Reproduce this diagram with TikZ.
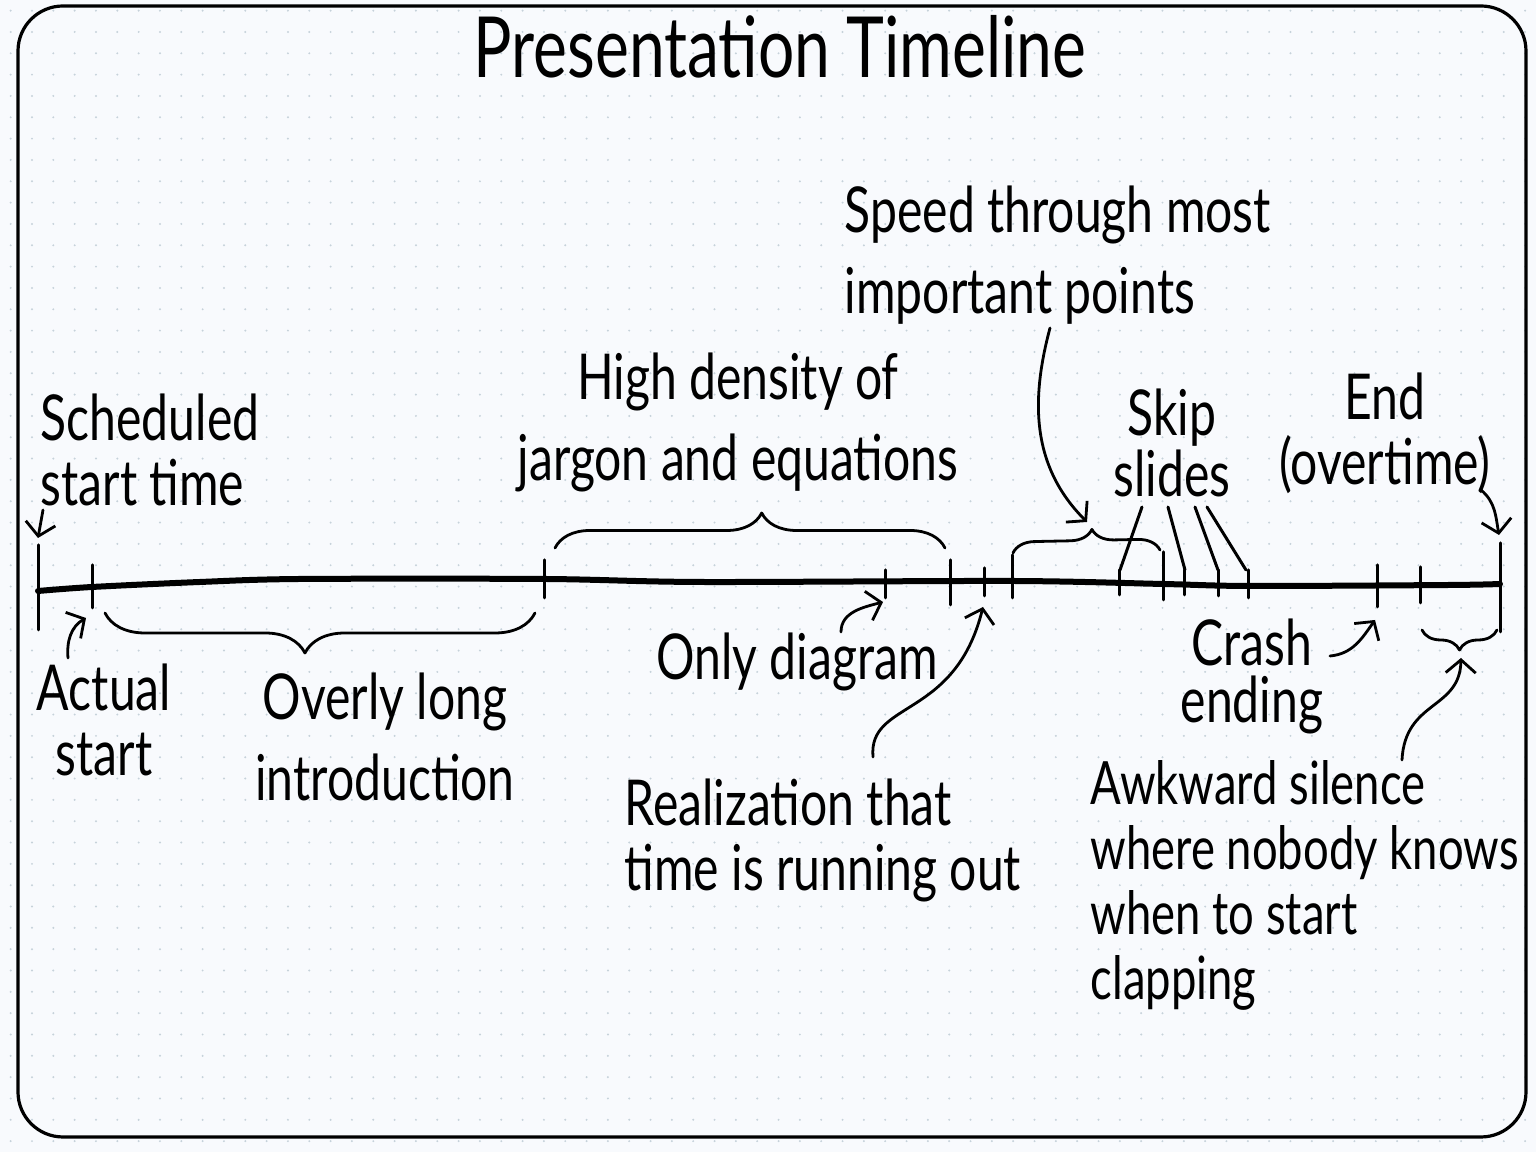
\documentclass[tikz,border=0pt]{standalone}
\usepackage{fontspec}
\setmainfont{Lato}[FakeStretch=0.76]
\usetikzlibrary{arrows.meta,decorations.pathreplacing}
\definecolor{paper}{HTML}{F8FAFD}
\definecolor{dotc}{HTML}{C6D2DA}
\tikzset{
  lbl/.style={font=\fontsize{18}{18.5}\selectfont, inner sep=0pt},
  wide/.style={font=\fontsize{18}{23.2}\selectfont},
  tight/.style={font=\fontsize{18}{16.4}\selectfont},
  tick/.style={line width=0.3mm},
  arr/.style={line width=0.28mm, -{Straight Barb[length=1.3mm,width=3mm]}},
  brc/.style={line width=0.28mm, decorate},
}
\begin{document}
\begin{tikzpicture}[x=0.1mm,y=-0.1mm,line cap=round,line join=round]
\useasboundingbox (0,0) rectangle (1536,1152);
\fill[paper] (0,0) rectangle (1536,1152);
% dotted paper
\foreach \i in {0,...,71}
  \foreach \j in {0,...,53}
    \fill[dotc] (10.67+21.33*\i,10.67+21.33*\j) circle (1.1);
\draw[line width=0.32mm, rounded corners=4.5mm] (18,6) rectangle (1526,1137);

\node[font=\fontsize{24}{24}\selectfont, inner sep=0pt, anchor=base] (title) at (780,78) {Presentation Timeline};

% the timeline
\draw[line width=0.6mm] plot[smooth] coordinates {(38,591) (92,587) (200,582) (300,579) (545,579)
  (700,582) (1012,581) (1163,584) (1250,586) (1450,585) (1500,584)};
\foreach \x/\a/\b in {38/545/630, 92/565/608, 544/560/598, 885/570/598, 950/560/605,
  984/568/596, 1012/555/598, 1119/570/595, 1163/552/600, 1184/570/595, 1218/570/596,
  1248/570/598, 1377/565/607, 1420/567/603, 1500/543/632}
{ \draw[tick] (\x,\a) -- (\x,\b);
}

% labels
\node[lbl, anchor=north west, align=left] (sched) at (40,393) {Scheduled\\start time};
\node[lbl, anchor=north, align=center] (actual) at (104,663) {Actual\\start};
\node[lbl, wide, anchor=north, align=center] (intro) at (385,672) {Overly long\\introduction};
\node[lbl, wide, anchor=north, align=center] (jargon) at (738,352) {High density of\\jargon and equations};
\node[lbl, wide, anchor=north west, align=left] (speed) at (844,185) {Speed through most\\important points};
\node[lbl, font=\fontsize{18}{15.4}\selectfont, anchor=north, align=center] (skip) at (1172,388) {Skip\\slides};
\node[lbl, anchor=north, align=center] (end) at (1385,372) {End\\(overtime)};
\node[lbl, anchor=north] (diagram) at (797,632) {Only diagram};
\node[lbl, anchor=north west, align=left] (realize) at (624,778) {Realization that\\time is running out};
\node[lbl, tight, anchor=north, align=center] (crash) at (1252,618) {Crash\\ending};
\node[lbl, font=\fontsize{17}{18.5}\selectfont, anchor=north west, align=left] (awkward) at (1090,760)
  {Awkward silence\\where nobody knows\\when to start\\clapping};

% arrow ends
\coordinate (schedA) at (43,510);  \coordinate (schedB) at (38,538);
\coordinate (actualA) at (68,658); \coordinate (actualB) at (86,618);
\coordinate (diagA) at (841,632);  \coordinate (diagB) at (883,602);
\coordinate (realA) at (873,757);  \coordinate (realB) at (983,607);
\coordinate (speedA) at (1050,328); \coordinate (speedB) at (1087,522);
\coordinate (endA) at (1481,490);  \coordinate (endB) at (1499,535);
\coordinate (crashA) at (1330,656); \coordinate (crashB) at (1375,620);
\coordinate (awkA) at (1402,760);  \coordinate (awkB) at (1461,658);

\draw[arr] (schedA) to[out=-100,in=80] (schedB);
\draw[arr] (actualA) to[out=95,in=210] (actualB);
\draw[arr] (diagA) to[out=90,in=195] (diagB);
\draw[arr] (realA) .. controls (868,700) and (955,720) .. (realB);
\draw[arr] (speedA) to[out=-105,in=135] (speedB);
\draw[arr] (endA) to[out=-40,in=100] (endB);
\draw[arr] (crashA) to[out=5,in=-125] (crashB);
\draw[arr] (awkA) .. controls (1405,700) and (1460,710) .. (awkB);

% skipped slides
\draw[tick] (1142,507) -- (1120,570);
\draw[tick] (1168,507) -- (1185,570);
\draw[tick] (1195,507) -- (1218,570);
\draw[tick] (1207,507) -- (1246,570);

% braces
\draw[brc, decoration={brace,amplitude=4mm,aspect=0.535}] (535,613) -- (105,613);
\draw[brc, decoration={brace,amplitude=3.5mm,aspect=0.53}] (555,548) -- (945,548);
\draw[brc, decoration={brace,amplitude=2.2mm,aspect=0.54}] (1013,553) -- (1160,550);
\draw[brc, decoration={brace,amplitude=2mm,aspect=0.5}] (1497,630) -- (1422,630);
\end{tikzpicture}
\end{document}
